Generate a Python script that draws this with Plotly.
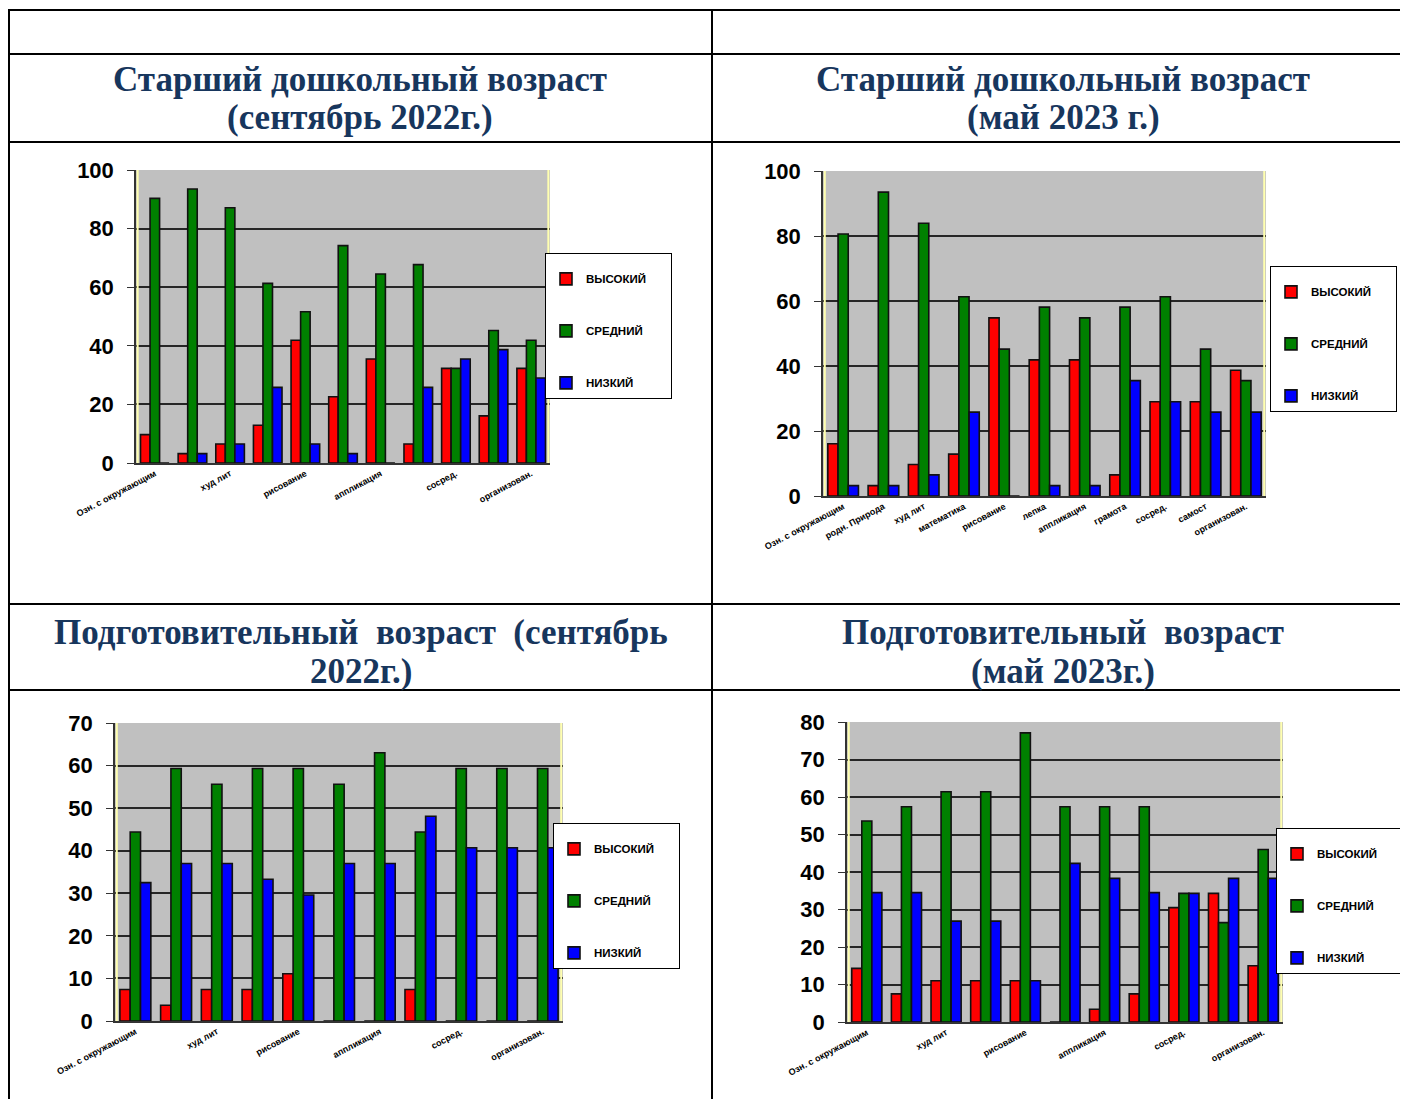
import plotly.graph_objects as go

W, H = 1408, 1099
PAGE_OFFSET = 8  # the page body margin shifts the figure by 8 px

# ---------------- data ----------------
categories = ["Озн. с окружающим", "родн. Природа", "худ лит", "математика", "рисование",
              "лепка", "аппликация", "грамота", "сосред.", "самост", "организован."]
series_names = ["ВЫСОКИЙ", "СРЕДНИЙ", "НИЗКИЙ"]

# Старший дошкольный возраст (сентябрь 2022г.)
p1_high = [9.7, 3.2, 6.5, 12.9, 41.9, 22.6, 35.5, 6.5, 32.3, 16.1, 32.3]
p1_mid = [90.3, 93.5, 87.1, 61.3, 51.6, 74.2, 64.5, 67.7, 32.3, 45.2, 41.9]
p1_low = [0, 3.2, 6.5, 25.8, 6.5, 3.2, 0, 25.8, 35.5, 38.7, 29.0]

# Старший дошкольный возраст (май 2023 г.)
p2_high = [16.1, 3.2, 9.7, 12.9, 54.8, 41.9, 41.9, 6.5, 29.0, 29.0, 38.7]
p2_mid = [80.6, 93.5, 83.9, 61.3, 45.2, 58.1, 54.8, 58.1, 61.3, 45.2, 35.5]
p2_low = [3.2, 3.2, 6.5, 25.8, 0, 3.2, 3.2, 35.5, 29.0, 25.8, 25.8]

# Подготовительный возраст (сентябрь 2022г.)
p3_high = [7.4, 3.7, 7.4, 7.4, 11.1, 0, 0, 7.4, 0, 0, 0]
p3_mid = [44.4, 59.3, 55.6, 59.3, 59.3, 55.6, 63.0, 44.4, 59.3, 59.3, 59.3]
p3_low = [32.5, 37.0, 37.0, 33.3, 29.6, 37.0, 37.0, 48.1, 40.7, 40.7, 40.7]

# Подготовительный возраст (май 2023г.)
p4_high = [14.3, 7.5, 11.0, 11.0, 11.0, 0, 3.4, 7.5, 30.5, 34.3, 15.0]
p4_mid = [53.6, 57.4, 61.4, 61.4, 77.1, 57.4, 57.4, 57.4, 34.3, 26.5, 46.0]
p4_low = [34.5, 34.5, 26.9, 26.9, 11.0, 42.3, 38.3, 34.5, 34.3, 38.3, 38.3]

every_other = categories[::2]
yticks_100 = [0, 20, 40, 60, 80, 100]
yticks_70 = [0, 10, 20, 30, 40, 50, 60, 70]
yticks_80 = [0, 10, 20, 30, 40, 50, 60, 70, 80]

titles = [
    ["Старший дошкольный возраст", "(сентябрь 2022г.)"],
    ["Старший дошкольный возраст", "(май 2023 г.)"],
    ["Подготовительный\u00a0 возраст\u00a0 (сентябрь", "2022г.)"],
    ["Подготовительный\u00a0 возраст", "(май 2023г.)"],
]

# ---------------- layout geometry (pixels in the final screenshot) ----------------
def fx(x):
    return (x - PAGE_OFFSET) / W

def fy(y):
    return 1 - (y - PAGE_OFFSET) / H

colors = ["#ff0000", "#008000", "#0000ff"]

panels = [
    dict(data=[p1_high, p1_mid, p1_low], x0=136, x1=550, ytop=170, ybot=463, ymax=100,
         ticks=yticks_100, xt=every_other, leg=(545, 253)),
    dict(data=[p2_high, p2_mid, p2_low], x0=823, x1=1266, ytop=171, ybot=496, ymax=100,
         ticks=yticks_100, xt=categories, leg=(1270, 266)),
    dict(data=[p3_high, p3_mid, p3_low], x0=115, x1=563, ytop=723, ybot=1021, ymax=70,
         ticks=yticks_70, xt=every_other, leg=(553, 823)),
    dict(data=[p4_high, p4_mid, p4_low], x0=847, x1=1283, ytop=722, ybot=1022, ymax=80,
         ticks=yticks_80, xt=every_other, leg=(1276, 828)),
]

fig = go.Figure()
layout = dict(
    width=W, height=H, margin=dict(l=0, r=0, t=0, b=0, pad=0, autoexpand=False),
    paper_bgcolor="white", plot_bgcolor="#c0c0c0",
    barmode="group", bargap=0.24, bargroupgap=0,
    shapes=[], annotations=[],
)

for i, p in enumerate(panels, start=1):
    sfx = "" if i == 1 else str(i)
    for s, (name, col, vals) in enumerate(zip(series_names, colors, p["data"])):
        fig.add_trace(go.Bar(
            x=categories, y=vals, name=name + "\u00a0" * 6,
            marker=dict(color=col, line=dict(color="#111111", width=1.6)),
            xaxis="x" + sfx, yaxis="y" + sfx,
            legend="legend" + sfx, legendgroup=f"p{i}s{s}",
            hovertemplate="%{x}: %{y}<extra>" + name + "</extra>",
        ))
    layout["xaxis" + sfx] = dict(
        domain=[fx(p["x0"]), fx(p["x1"])], anchor="y" + sfx, automargin=False,
        type="category", categoryorder="array", categoryarray=categories,
        tickmode="array", tickvals=p["xt"], ticktext=p["xt"], tickangle=-28,
        tickfont=dict(family="Liberation Sans, Arial", size=9, color="black", weight="bold"),
        showgrid=False, showline=True, linecolor="#333333", linewidth=2,
        ticks="", fixedrange=True,
    )
    layout["yaxis" + sfx] = dict(
        domain=[fy(p["ybot"]), fy(p["ytop"])], anchor="x" + sfx, automargin=False,
        range=[0, p["ymax"]], tickmode="array", tickvals=p["ticks"],
        tickfont=dict(family="Liberation Sans, Arial", size=22, color="black", weight="bold"),
        showgrid=True, gridcolor="#262626", gridwidth=1.8,
        showline=True, linecolor="#333333", linewidth=1.5,
        ticks="outside", ticklen=7, tickcolor="#333333", ticklabelstandoff=9,
        zeroline=False, fixedrange=True,
    )
    layout["legend" + sfx] = dict(
        x=fx(p["leg"][0]), y=fy(p["leg"][1]), xanchor="left", yanchor="top",
        bgcolor="white", bordercolor="black", borderwidth=1,
        font=dict(family="Liberation Sans, Arial", size=11.5, color="black", weight="bold"),
        tracegroupgap=33, itemwidth=30,
        title=dict(text="\u00a0", font=dict(size=8)),
    )
    # pale yellow wall edges of the 3-D chart
    for xd in (0.004, 0.996):
        layout["shapes"].append(dict(
            type="line", xref=f"x{sfx} domain" if sfx else "x domain",
            yref=f"y{sfx} domain" if sfx else "y domain",
            x0=xd, x1=xd, y0=0, y1=1, line=dict(color="#ffffb0", width=2), layer="above"))

# ---------------- table frame ----------------
LC = "black"
for y in (10, 54, 142, 604, 690):
    layout["shapes"].append(dict(type="line", xref="paper", yref="paper",
                                 x0=fx(8), x1=1, y0=fy(y), y1=fy(y),
                                 line=dict(color=LC, width=2)))
for x in (9, 712):
    layout["shapes"].append(dict(type="line", xref="paper", yref="paper",
                                 x0=fx(x), x1=fx(x), y0=fy(10), y1=0,
                                 line=dict(color=LC, width=2)))

# ---------------- titles ----------------
TFONT = dict(family="Liberation Serif, Times New Roman", size=35, color="#17365d", weight="bold")

def title(text, x, y):
    layout["annotations"].append(dict(
        text=text, x=fx(x), y=fy(y), xref="paper", yref="paper",
        xanchor="center", yanchor="middle", showarrow=False, font=TFONT))

title(titles[0][0], 360, 79)
title(titles[0][1], 360, 117)
title(titles[1][0], 1063, 79)
title(titles[1][1], 1063, 117)
title(titles[2][0], 361, 632)
title(titles[2][1], 361, 671)
title(titles[3][0], 1063, 632)
title(titles[3][1], 1063, 671)

fig.update_layout(**layout)
fig.write_html("out.html")
